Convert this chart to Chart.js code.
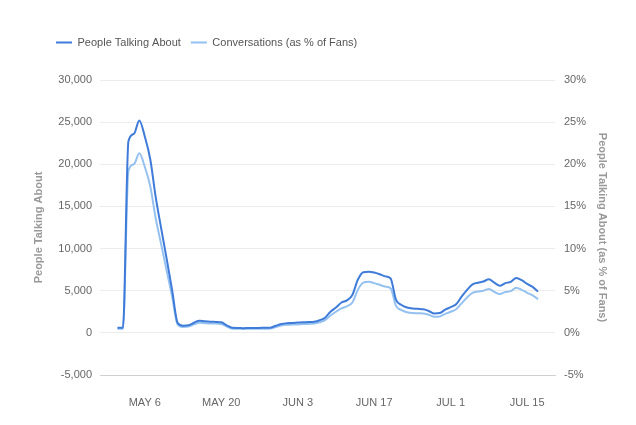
<!DOCTYPE html>
<html>
<head>
<meta charset="utf-8">
<script src="https://cdn.jsdelivr.net/npm/chart.js@4"></script>
<style>
html,body{margin:0;padding:0;background:#fff;}
#wrap{width:636px;height:425px;position:relative;}
</style>
</head>
<body>
<div id="wrap"><canvas id="c" width="636" height="425"></canvas></div>
<script>
// Day offsets relative to May 6 (0 = May 6)
const days = [-5,-4,-3,-2,-1,0,1,2,3,4,5,6,7,8,9,10,11,12,13,14,15,16,17,18,19,20,21,22,23,24,25,26,27,28,29,30,31,32,33,34,35,36,37,38,39,40,41,42,43,44,45,46,47,48,49,50,51,52,53,54,55,56,57,58,59,60,61,62,63,64,65,66,67,68,69,70,71,72];
const peopleTalkingAbout = [600,600,22700,23600,25200,23300,20600,16100,12400,8800,5100,1200,850,900,1200,1450,1380,1330,1300,1250,900,600,580,560,570,580,590,600,620,850,1050,1150,1180,1220,1260,1280,1320,1500,1800,2500,3000,3600,3850,4500,6300,7200,7250,7150,6950,6700,6450,3900,3300,3000,2880,2850,2800,2600,2300,2350,2750,3050,3400,4300,5100,5750,5950,6100,6350,5950,5600,5900,6050,6500,6250,5800,5450,4900];
const conversationsPct = [0.5,0.5,19.2,20.0,21.3,19.7,17.4,13.6,10.5,7.4,4.3,1.0,0.7,0.75,1.0,1.2,1.15,1.1,1.1,1.05,0.75,0.5,0.5,0.47,0.48,0.49,0.5,0.5,0.52,0.7,0.88,0.96,0.98,1.0,1.04,1.06,1.1,1.25,1.5,2.05,2.5,2.9,3.15,3.6,5.1,5.95,6.05,5.9,5.7,5.5,5.3,3.2,2.7,2.45,2.35,2.33,2.3,2.15,1.9,1.95,2.25,2.5,2.8,3.5,4.2,4.75,4.9,5.0,5.2,4.85,4.6,4.85,4.95,5.35,5.1,4.75,4.45,4.0];
const tickDays = [0,14,28,42,56,70];
const tickLabels = ['MAY 6','MAY 20','JUN 3','JUN 17','JUL 1','JUL 15'];
const seriesNames = ['People Talking About','Conversations (as % of Fans)'];
const leftTitle = 'People Talking About';
const rightTitle = 'People Talking About (as % of Fans)';

Chart.defaults.font.family = "'Liberation Sans', Arial, sans-serif";

const DARK = '#3f7bd9';
const LIGHT = '#94c1f0';

const legendShift = {
  id: 'legendShift',
  afterLayout(chart) {
    const l = chart.legend;
    if (!l) return;
    l.left += 46; l.right += 46;
    l.top -= 22; l.bottom -= 22;
  }
};

new Chart(document.getElementById('c'), {
  type: 'line',
  data: {
    datasets: [
      {
        label: seriesNames[0],
        data: days.map((d, i) => ({x: d, y: peopleTalkingAbout[i]})),
        borderColor: DARK, backgroundColor: DARK,
        borderWidth: 2, pointRadius: 0, cubicInterpolationMode: 'monotone',
        yAxisID: 'y'
      },
      {
        label: seriesNames[1],
        data: days.map((d, i) => ({x: d, y: conversationsPct[i]})),
        borderColor: LIGHT, backgroundColor: LIGHT,
        borderWidth: 2, pointRadius: 0, cubicInterpolationMode: 'monotone',
        yAxisID: 'y1'
      }
    ]
  },
  options: {
    responsive: false,
    animation: false,
    layout: {padding: {top: 49, left: 0, right: 0, bottom: 0}},
    plugins: {
      tooltip: {enabled: false},
      legend: {
        position: 'top',
        align: 'start',
        labels: {
          boxWidth: 16, boxHeight: 2, padding: 10,
          color: '#555',
          font: {size: 11},
          generateLabels(chart) {
            return chart.data.datasets.map((ds, i) => ({
              text: ds.label, fillStyle: ds.borderColor, strokeStyle: ds.borderColor,
              lineWidth: 0, hidden: false, datasetIndex: i, fontColor: '#555'
            }));
          }
        }
      }
    },
    scales: {
      x: {
        type: 'linear',
        min: -8.2, max: 75.1,
        grid: {display: false, drawTicks: false},
        border: {display: true, color: '#cfcfcf', width: 1},
        afterBuildTicks(axis) { axis.ticks = tickDays.map(v => ({value: v})); },
        afterFit(scale) { scale.height = 50; },
        ticks: {
          padding: 21, color: '#666', font: {size: 11}, maxRotation: 0,
          callback(v) { const k = tickDays.indexOf(v); return k >= 0 ? tickLabels[k] : ''; }
        }
      },
      y: {
        position: 'left',
        min: -5000, max: 30000,
        grid: {color: '#ececec', drawTicks: false},
        border: {display: false},
        afterFit(scale) { scale.width = 100; },
        ticks: {
          stepSize: 5000, padding: 8, color: '#666', font: {size: 11},
          callback(v) { return v.toLocaleString('en-US'); }
        },
        title: {display: true, text: leftTitle, color: '#999', font: {size: 11, weight: 'bold'}, padding: {top: 32, bottom: 0}}
      },
      y1: {
        position: 'right',
        min: -5, max: 30,
        grid: {display: false, drawTicks: false},
        border: {display: false},
        afterFit(scale) { scale.width = 81; },
        ticks: {
          stepSize: 5, padding: 9, color: '#666', font: {size: 11},
          callback(v) { return v + '%'; }
        },
        title: {display: true, text: rightTitle, color: '#999', font: {size: 11, weight: 'bold'}, padding: {top: 27, bottom: 0}}
      }
    }
  },
  plugins: [legendShift]
});
</script>
</body>
</html>
